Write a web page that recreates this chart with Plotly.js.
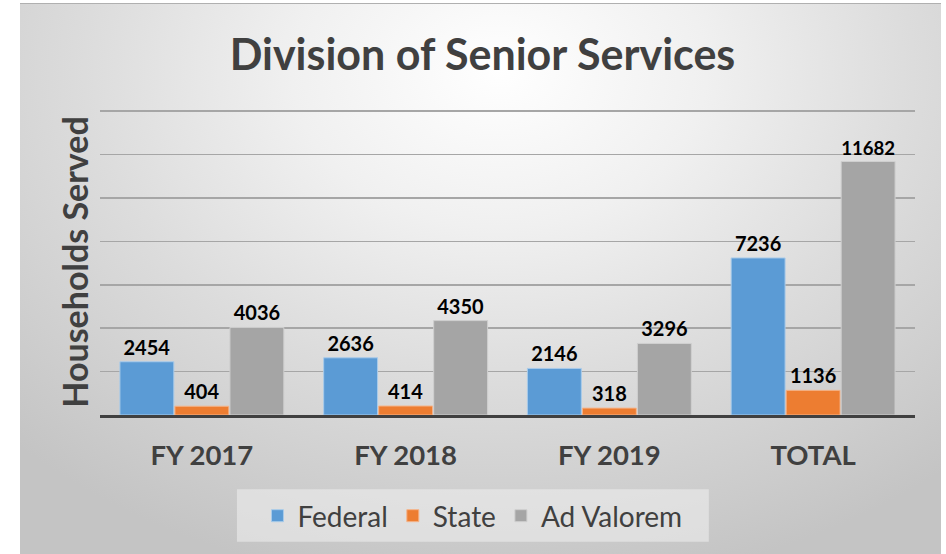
<!DOCTYPE html>
<html>
<head>
<meta charset="utf-8">
<script src="https://cdn.plot.ly/plotly-3.0.1.min.js"></script>
<style>
  html, body { margin: 0; padding: 0; background: #ffffff; }
  #wrap { position: relative; width: 946px; height: 554px; overflow: hidden; }
  #bg {
    position: absolute; left: 20px; top: 3px; width: 921px; height: 551px;
    border-top: 1px solid #b0b0b0;
    background: radial-gradient(ellipse 75% 95% at 52% 12%, #ffffff 0%, #f0f0f0 30%, #dcdcdc 60%, #c4c4c4 100%);
  }
  #chart { position: absolute; left: 0; top: 0; width: 946px; height: 554px; }
</style>
</head>
<body>
<div id="wrap">
  <div id="bg"></div>
  <div id="chart"></div>
</div>
<script>
const categories = ["FY 2017", "FY 2018", "FY 2019", "TOTAL"];
const federal = [2454, 2636, 2146, 7236];
const state = [404, 414, 318, 1136];
const adValorem = [4036, 4350, 3296, 11682];
const seriesNames = ["Federal", "State", "Ad Valorem"];

const colors = ["#5B9BD5", "#ED7D31", "#A5A5A5"];
const outline = ["#a9cbea", "#f5b48a", "#cfcfcf"];
const FONT = "Lato, 'Open Sans', sans-serif";
const labelFont = { family: FONT, size: 20, color: "#000000", weight: "bold" };

const seriesValues = [federal, state, adValorem];
const traces = seriesValues.map((vals, i) => ({
  type: "bar",
  name: seriesNames[i],
  x: categories,
  y: vals,
  text: vals.map(String),
  textposition: "outside",
  textfont: labelFont,
  cliponaxis: false,
  marker: { color: colors[i], line: { color: outline[i], width: 1 } },
  hoverinfo: "x+y+name"
}));

const layout = {
  width: 946,
  height: 554,
  paper_bgcolor: "rgba(0,0,0,0)",
  plot_bgcolor: "rgba(0,0,0,0)",
  margin: { l: 100, r: 31, t: 108.5, b: 139 },
  barmode: "group",
  bargap: 0.19,
  bargroupgap: 0.02,
  showlegend: true,
  title: {
    text: "Division of Senior Services",
    font: { family: FONT, size: 43, color: "#404040", weight: "bold" },
    x: 0.51, xanchor: "center", xref: "container",
    y: 0.9, yanchor: "middle", yref: "container"
  },
  xaxis: {
    type: "category",
    showline: true, linecolor: "#404040", linewidth: 2.5,
    showgrid: false, ticks: "",
    tickfont: { family: FONT, size: 27.5, color: "#404040", weight: "bold" },
    ticklabelstandoff: 14
  },
  yaxis: {
    range: [0, 14100],
    tickvals: [2000, 4000, 6000, 8000, 10000, 12000, 14000],
    showticklabels: false,
    showgrid: true, gridcolor: "#a6a6a6", gridwidth: 1.5,
    zeroline: false, showline: false, ticks: "",
    fixedrange: true,
    title: {
      text: "Households Served",
      font: { family: FONT, size: 34, color: "#404040", weight: "bold" },
      standoff: 0
    }
  },
  legend: {
    orientation: "h",
    x: 0.457, xanchor: "center",
    y: -0.33, yanchor: "middle",
    bgcolor: "rgba(0,0,0,0)",
    font: { family: FONT, size: 28, color: "#404040" },
    itemclick: false, itemdoubleclick: false
  },
  shapes: [{
    type: "rect", xref: "paper", yref: "paper",
    x0: 0.168, x1: 0.747, y0: -0.414, y1: -0.243,
    fillcolor: "rgba(240,240,240,0.55)", line: { width: 0 }, layer: "below"
  }]
};

Plotly.newPlot("chart", traces, layout, { displayModeBar: false, staticPlot: true });
</script>
</body>
</html>
